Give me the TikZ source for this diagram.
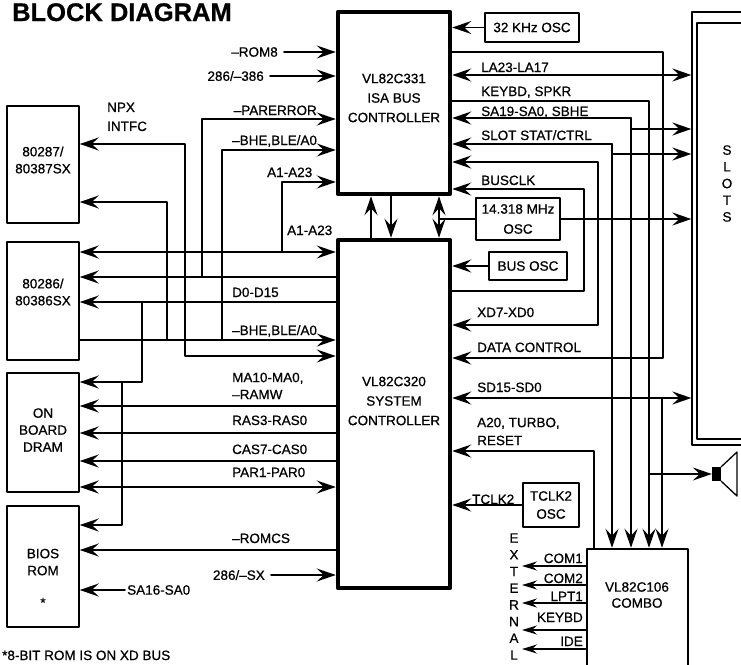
\documentclass[tikz,border=0pt]{standalone}
\usepackage{fontspec}
\setmainfont{Liberation Sans}[FakeBold=0.7]
\usetikzlibrary{arrows.meta}

\begin{document}
\begin{tikzpicture}[line cap=round,line join=round,x=1pt,y=-1pt,
    >={Stealth[length=19pt,width=13pt,inset=7pt]},
    every node/.style={font=\fontsize{13.5}{17}\selectfont,inner sep=0pt},
    bus/.style={line width=1.8pt},
    chip/.style={draw,line width=4.5pt,minimum width=112pt},
    box/.style={draw,line width=1.5pt,align=center},
    ctl/.style={align=center,font=\fontsize{13.5}{19.5}\selectfont},
    vtxt/.style={align=center,font=\fontsize{13.5}{16.7}\selectfont},
    lbl/.style={anchor=base west},
    ext/.style={line width=1.3pt,-{Stealth[length=15pt,width=9pt,inset=5pt]}}]
\path[use as bounding box,fill=white] (0,0) rectangle (741,664);

\node[anchor=base west,font=\bfseries\fontsize{25.5}{30}\selectfont] (title) at (12,21) {BLOCK DIAGRAM};

% chips and boxes
\node[chip,minimum height=182pt] (isa) at (394,103) {};
\node[ctl] (isa-t) at (394,98) {VL82C331\\ISA BUS\\CONTROLLER};
\node[chip,minimum height=348pt] (sys) at (394,414) {};
\node[ctl] (sys-t) at (394,401) {VL82C320\\SYSTEM\\CONTROLLER};

\node[box,minimum width=72pt,minimum height=117pt] (npx) at (43,164.5) {};
\node[align=center] (npx-t) at (43,160) {80287/\\80387SX};
\node[box,minimum width=72pt,minimum height=118pt] (cpu) at (43,301) {};
\node[align=center] (cpu-t) at (43,292) {80286/\\80386SX};
\node[box,minimum width=72pt,minimum height=119pt] (dram) at (43,432.5) {};
\node[align=center] (dram-t) at (43,430) {ON\\BOARD\\DRAM};
\node[box,minimum width=72pt,minimum height=121pt] (bios) at (43,566.5) {};
\node[align=center] (bios-t) at (43,578) {BIOS\\ROM\\[15pt]*};

\node[box,minimum width=94pt,minimum height=29pt] (khz) at (532,27.5) {32 KHz OSC};
\node[box,minimum width=84pt,minimum height=42pt,font=\fontsize{13.5}{20}\selectfont] (mhz) at (518,219) {14.318 MHz\\OSC};
\node[box,minimum width=78pt,minimum height=28pt] (bosc) at (528,266) {BUS OSC};
\node[box,minimum width=56pt,minimum height=44pt,font=\fontsize{13.5}{18}\selectfont] (tosc) at (551,505) {TCLK2\\OSC};

\node[draw,line width=2.5pt,minimum width=101pt,minimum height=160pt] (combo) at (637.5,629) {};
\node[align=center,font=\fontsize{13.5}{16}\selectfont] (combo-t) at (637,595) {VL82C106\\COMBO};

\node[draw,line width=1.3pt,minimum width=98pt,minimum height=433pt] (slots) at (741,228.5) {};
\draw[line width=1.3pt] (697,23) rectangle (760,439);
\node[vtxt] (slots-t) at (727,183.5) {S\\L\\O\\T\\S};

\node[fill,minimum width=9pt,minimum height=14pt] (spk) at (716.5,474) {};
\draw[line width=1.3pt] (spk.north east) -- (737,452) -- (737,496) -- (spk.south east);

\node[vtxt] (ext-t) at (514,596.5) {E\\X\\T\\E\\R\\N\\A\\L};
\node[anchor=base west] (note) at (2,660) {*8-BIT ROM IS ON XD BUS};

% left of the controllers
\node[anchor=east,inner xsep=6pt] (rom8) at (284,52) {--ROM8};
\draw[bus,->] (rom8) -- (rom8 -| isa.west);
\node[anchor=east,inner xsep=6pt] (r386) at (270,76) {286/--386};
\draw[bus,->] (r386) -- (r386 -| isa.west);

\coordinate (pe-a) at (202,277);
\coordinate (pe-b) at (202,119);
\draw[bus,->] (pe-a -| sys.west) -- (pe-a -| cpu.east);
\draw[bus,->] (pe-a) -- (pe-b) -- (pe-b -| isa.west);
\node[anchor=base east] (pe-l) at (317,115) {--PARERROR};

\coordinate (bh-a) at (222,340);
\coordinate (bh-b) at (222,150);
\coordinate (bh-c) at (167,340);
\coordinate (bh-d) at (167,202);
\draw[bus,->] (bh-a -| cpu.east) -- (bh-a -| sys.west);
\draw[bus,->] (bh-a) -- (bh-b) -- (bh-b -| isa.west);
\draw[bus,->] (bh-c) -- (bh-d) -- (bh-d -| npx.east);
\node[lbl] (bh-l1) at (232,145) {--BHE,BLE/A0};
\node[lbl] (bh-l2) at (232,335) {--BHE,BLE/A0};

\coordinate (nx-a) at (185,144);
\coordinate (nx-b) at (185,356);
\draw[bus,<->] (nx-a -| npx.east) -- (nx-a) -- (nx-b) -- (nx-b -| sys.west);
\node[anchor=north west,align=left,font=\fontsize{13.5}{19}\selectfont] (nx-l) at (107,102.5) {NPX\\INTFC};

\coordinate (aa-a) at (282,252);
\coordinate (aa-b) at (282,182);
\draw[bus,<->] (aa-a -| cpu.east) -- (aa-a -| sys.west);
\draw[bus,->] (aa-a) -- (aa-b) -- (aa-b -| isa.west);
\node[lbl] (aa-l1) at (267,177) {A1-A23};
\node[lbl] (aa-l2) at (287,235) {A1-A23};

\coordinate (dd-a) at (142,302);
\coordinate (dd-b) at (142,382);
\coordinate (dd-c) at (122,382);
\coordinate (dd-d) at (122,525);
\draw[bus,->] (dd-a -| sys.west) -- (dd-a -| cpu.east);
\draw[bus,->] (dd-a) -- (dd-b) -- (dd-b -| dram.east);
\draw[bus,->] (dd-c) -- (dd-d) -- (dd-d -| bios.east);
\node[lbl] (dd-l) at (232,297) {D0-D15};

\coordinate (ma) at (300,406);
\coordinate (ras) at (300,433);
\coordinate (cas) at (300,461);
\coordinate (par) at (300,487);
\coordinate (rcs) at (300,550);
\draw[bus,->] (ma -| sys.west) -- (ma -| dram.east);
\draw[bus,->] (ras -| sys.west) -- (ras -| dram.east);
\draw[bus,->] (cas -| sys.west) -- (cas -| dram.east);
\draw[bus,<->] (par -| dram.east) -- (par -| sys.west);
\draw[bus,->] (rcs -| sys.west) -- (rcs -| bios.east);
\node[lbl,align=left,anchor=north west] (ma-l) at (232,372.5) {MA10-MA0,\\--RAMW};
\node[lbl] (ras-l) at (232,425) {RAS3-RAS0};
\node[lbl] (cas-l) at (232,454) {CAS7-CAS0};
\node[lbl] (par-l) at (232,477) {PAR1-PAR0};
\node[lbl] (rcs-l) at (232,543) {--ROMCS};

\node[anchor=east,inner xsep=6pt] (sx) at (271,575) {286/--SX};
\draw[bus,->] (sx) -- (sx -| sys.west);
\node[anchor=west,inner xsep=2pt] (sa16) at (125,590) {SA16-SA0};
\draw[bus,->] (sa16) -- (sa16 -| bios.east);

% between the controllers
\coordinate (up) at (371,217);
\coordinate (dn) at (391,217);
\coordinate (ck) at (439,219);
\draw[bus,->] (up |- sys.north) -- (up |- isa.south);
\draw[bus,->] (dn |- isa.south) -- (dn |- sys.north);
\draw[bus,<->] (ck |- isa.south) -- (ck |- sys.north);
\draw[bus] (mhz) -- (ck);

% right of the controllers
\draw[bus,->] (khz) -- (khz -| isa.east);

\coordinate (dc-a) at (663,52);
\coordinate (dc-b) at (663,358);
\draw[bus,->] (dc-a -| isa.east) -- (dc-a) -- (dc-b) -- (dc-b -| sys.east);

\coordinate (la) at (600,75);
\draw[bus,<->] (la -| isa.east) -- (la -| slots.west);

\coordinate (kb-a) at (649,101);
\coordinate (kb-b) at (649,474);
\draw[bus,->] (kb-a -| isa.east) -- (kb-a) -- (kb-a |- combo.north);
\draw[bus,->] (kb-b) -- (spk);

\coordinate (sa-a) at (631,118);
\coordinate (sa-b) at (631,129);
\draw[bus,->] (sa-a) -- (sa-a -| isa.east);
\draw[bus,->] (sa-a) -- (sa-a |- combo.north);
\draw[bus,->] (sa-b) -- (sa-b -| slots.west);

\coordinate (st-a) at (612,144);
\coordinate (st-b) at (612,154);
\draw[bus,->] (st-a) -- (st-a -| isa.east);
\draw[bus,->] (st-a) -- (st-a |- combo.north);
\draw[bus,->] (st-b) -- (st-b -| slots.west);

\coordinate (xd-a) at (598,162);
\coordinate (xd-b) at (598,325);
\draw[bus,<->] (xd-a -| isa.east) -- (xd-a) -- (xd-b) -- (xd-b -| sys.east);

\coordinate (bc-a) at (584,189);
\coordinate (bc-b) at (584,291);
\draw[bus,->] (bc-b -| sys.east) -- (bc-b) -- (bc-a) -- (bc-a -| isa.east);

\draw[bus,->] (mhz) -- (mhz -| slots.west);
\draw[bus,->] (bosc) -- (bosc -| sys.east);

\coordinate (sd-a) at (662,398);
\draw[bus,<->] (sd-a -| sys.east) -- (sd-a -| slots.west);
\draw[bus,->] (sd-a) -- (sd-a |- combo.north);

\coordinate (tb) at (594,451);
\draw[bus,->] (tb |- combo.north) -- (tb) -- (tb -| sys.east);
\draw[bus,->] (tosc) -- (tosc -| sys.east);

\node[lbl] (la-l) at (481,72) {LA23-LA17};
\node[lbl] (kb-l) at (481,96) {KEYBD, SPKR};
\node[lbl] (sa-l) at (481,116) {SA19-SA0, SBHE};
\node[lbl] (st-l) at (481,140) {SLOT STAT/CTRL};
\node[lbl] (bc-l) at (481,185) {BUSCLK};
\node[lbl] (xd-l) at (477,317) {XD7-XD0};
\node[lbl] (dc-l) at (477,352) {DATA CONTROL};
\node[lbl] (sd-l) at (477,392) {SD15-SD0};
\node[lbl,align=left,anchor=north west,font=\fontsize{13.5}{18}\selectfont] (tb-l) at (477,417.5) {A20, TURBO,\\RESET};
\node[lbl] (tc-l) at (472,504) {TCLK2};

% external ports
\foreach \y/\b/\t [count=\i] in {566/563/COM1,585/583/COM2,603/601/LPT1,630/622/KEYBD,649/646/IDE}{
  \coordinate (ex\i) at (522,\y);
  \draw[ext] (ex\i -| combo.west) -- (ex\i);
  \node[anchor=base east] (ex\i-l) at (583,\b) {\t};
}
\end{tikzpicture}
\end{document}
